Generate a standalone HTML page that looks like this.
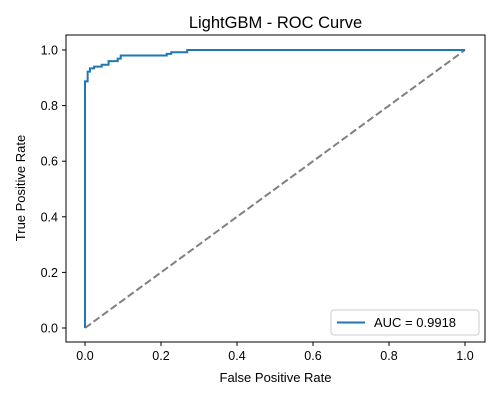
<!DOCTYPE html>
<html><head><meta charset="utf-8"><style>
body{margin:0;background:#fff;}
svg{display:block;font-family:"Liberation Sans","DejaVu Sans",sans-serif;}
</style></head><body>
<svg id="chart" width="500" height="400">
<text x="275.5" y="28" font-size="16.5" text-anchor="middle">LightGBM - ROC Curve</text>
<g id="grid"></g>
<g id="marks"></g>
<rect x="66" y="35" width="419" height="307" fill="none" stroke="#000" stroke-width="1"/>
<text x="275.5" y="382" font-size="13" text-anchor="middle">False Positive Rate</text>
<text x="25" y="188" font-size="13" text-anchor="middle" transform="rotate(-90 25 188)">True Positive Rate</text>
<g>
<rect x="331" y="310" width="148" height="25" rx="3" fill="#fff" stroke="#ccc"/>
<line x1="337" y1="322.5" x2="365" y2="322.5" stroke="#1f77b4" stroke-width="2"/>
<text x="374" y="327" font-size="13">AUC = 0.9918</text>
</g>
</svg>
<script>
const fpr=[0,0,0.007,0.007,0.013,0.013,0.024,0.024,0.044,0.044,0.062,0.062,0.086,0.086,0.094,0.094,0.215,0.215,0.227,0.227,0.269,0.269,1.0];
const tpr=[0,0.887,0.887,0.922,0.922,0.934,0.934,0.94,0.94,0.947,0.947,0.96,0.96,0.969,0.969,0.98,0.98,0.986,0.986,0.992,0.992,1.0,1.0];
const xTicks=[0,0.2,0.4,0.6,0.8,1.0];
const yTicks=[0,0.2,0.4,0.6,0.8,1.0];
const NS="http://www.w3.org/2000/svg";
const sx=v=>85+v*380, sy=v=>328-v*278;
const g=document.getElementById('grid'), m=document.getElementById('marks');
xTicks.forEach(t=>{
 const l=document.createElementNS(NS,'line');
 l.setAttribute('x1',sx(t));l.setAttribute('x2',sx(t));l.setAttribute('y1',342);l.setAttribute('y2',346);l.setAttribute('stroke','#000');
 
 
 g.appendChild(l);
 const tx=document.createElementNS(NS,'text');
 tx.setAttribute('x',sx(t));tx.setAttribute('y',360);tx.setAttribute('font-size','12.5');tx.setAttribute('text-anchor','middle');
 tx.textContent=t.toFixed(1);
 
 
 g.appendChild(tx);
});
yTicks.forEach(t=>{
 const l=document.createElementNS(NS,'line');
 l.setAttribute('x1',62);l.setAttribute('x2',66);l.setAttribute('y1',sy(t));l.setAttribute('y2',sy(t));l.setAttribute('stroke','#000');
 
 
 g.appendChild(l);
 const tx=document.createElementNS(NS,'text');
 tx.setAttribute('x',58);tx.setAttribute('y',sy(t)+4.5);tx.setAttribute('font-size','12.5');tx.setAttribute('text-anchor','end');
 tx.textContent=t.toFixed(1);
 
 
 g.appendChild(tx);
});
const d=document.createElementNS(NS,'line');
d.setAttribute('x1',sx(0));d.setAttribute('y1',sy(0));d.setAttribute('x2',sx(1));d.setAttribute('y2',sy(1));
d.setAttribute('stroke','#808080');d.setAttribute('stroke-width','2');d.setAttribute('stroke-dasharray','7.4,3.2');


m.appendChild(d);
const p=document.createElementNS(NS,'polyline');
p.setAttribute('points',fpr.map((x,i)=>sx(x)+','+sy(tpr[i])).join(' '));
p.setAttribute('fill','none');p.setAttribute('stroke','#1f77b4');p.setAttribute('stroke-width','2');


m.appendChild(p);
</script>
</body></html>
